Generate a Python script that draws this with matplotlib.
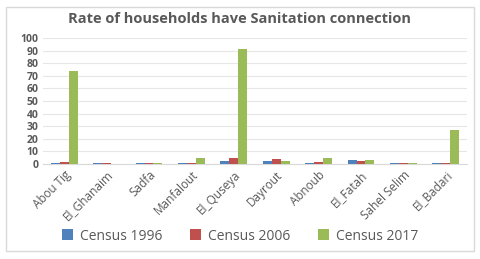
import matplotlib
matplotlib.use("Agg")
import matplotlib.pyplot as plt
import numpy as np
from matplotlib.patches import Rectangle

categories = ["Abou Tig", "El_Ghanaim", "Sadfa", "Manfalout", "El_Quseya",
              "Dayrout", "Abnoub", "El_Fatah", "Sahel Selim", "El_Badari"]
census_1996 = [1.0, 0.5, 1.0, 1.0, 2.2, 2.0, 1.0, 3.5, 0.8, 1.0]
census_2006 = [1.5, 0.5, 1.0, 1.0, 5.0, 4.0, 1.5, 2.0, 0.8, 1.0]
census_2017 = [74, 0.3, 0.5, 5.0, 91, 2.0, 5.0, 3.5, 0.8, 27]
series_names = ["Census 1996", "Census 2006", "Census 2017"]
colors = ["#4F81BD", "#C0504D", "#9BBB59"]
yticks = list(range(0, 101, 10))

plt.rcParams['font.family'] = ['Open Sans', 'DejaVu Sans']
fig = plt.figure(figsize=(4.8, 2.59), dpi=100)
fig.patch.set_facecolor("white")
fig.add_artist(Rectangle((6/480, 8/259), 468/480, 244/259, transform=fig.transFigure,
                         fill=False, edgecolor="#D9D9D9", linewidth=1.0))

ax = fig.add_axes([43/480, 1-164/259, 424/480, 126/259])
x = np.arange(len(categories))
w = 0.21
for i, (vals, name, c) in enumerate(zip([census_1996, census_2006, census_2017], series_names, colors)):
    ax.bar(x + (i-1)*w, vals, width=w, color=c, label=name, zorder=3)

ax.set_xlim(-0.5, len(categories)-0.5)
ax.set_ylim(0, 100)
ax.set_yticks(yticks)
ax.set_yticklabels([str(t) for t in yticks], fontsize=7.5, fontweight="bold", color="#595959")
ax.set_xticks(x)
ax.set_xticklabels(categories, rotation=45, ha="right", rotation_mode="anchor",
                   fontsize=8.5, color="#595959")
ax.tick_params(axis="both", length=0, pad=3)
ax.grid(axis="y", color="#E6E6E6", linewidth=0.8, zorder=0)
for s in ["top", "right", "left"]:
    ax.spines[s].set_visible(False)
ax.spines["bottom"].set_color("#D9D9D9")

fig.text(0.5, 1-19/259, "Rate of households have Sanitation connection",
         ha="center", va="center", fontsize=10.5, fontweight="bold", color="#595959")

fig.legend(loc="center", bbox_to_anchor=(0.5, 1-236/259), ncol=3, frameon=False,
           fontsize=10, handlelength=0.8, handleheight=0.8, columnspacing=2.0,
           handletextpad=0.5, labelcolor="#595959")

fig.savefig("out.png", dpi=100)
